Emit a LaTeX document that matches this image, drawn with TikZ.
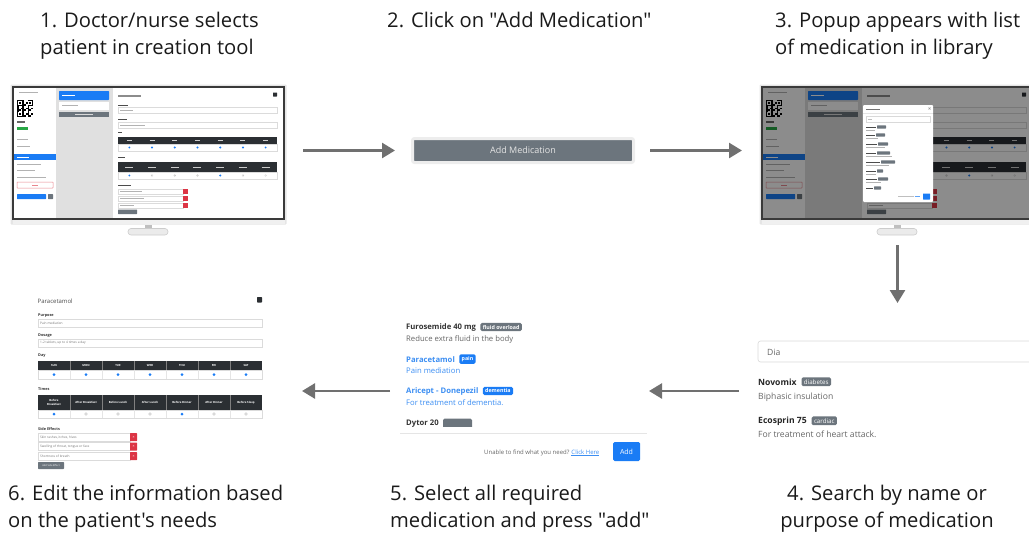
\documentclass[tikz,border=0pt]{standalone}
\usepackage{fontspec}
\setmainfont{Open Sans}[Ligatures=TeXOff]
\usetikzlibrary{arrows.meta, positioning, calc}
\definecolor{arrowgray}{HTML}{707070}
\definecolor{titletext}{HTML}{1A1A1A}
\definecolor{framedark}{HTML}{3A3A3A}
\definecolor{bsblue}{HTML}{1A7CF5}
\definecolor{linkblue}{HTML}{3C8EF2}
\definecolor{bsgray}{HTML}{6C757D}
\definecolor{bsdark}{HTML}{2B2F33}
\definecolor{bsred}{HTML}{DC3545}
\definecolor{bsgreen}{HTML}{28A745}
\definecolor{txtgray}{HTML}{666666}
\tikzset{
  flow/.style={-{Triangle[length=13pt, width=15pt]}, line width=2.6pt, draw=arrowgray},
  panel/.style={inner sep=0pt, outer sep=0pt},
  title/.style={anchor=base west, align=left, inner sep=0pt, text=titletext, font=\fontsize{20.2}{27}\selectfont},
  txtbar/.style={line width=1pt, black!30},
  inputbox/.style={draw=black!14, line width=.4pt},
  medname/.style={anchor=base west, inner sep=0pt, font=\fontsize{7.7}{9}\selectfont\bfseries},
  meddesc/.style={anchor=base west, inner sep=0pt, font=\fontsize{7.7}{9}\selectfont},
  srchname/.style={anchor=base west, inner sep=0pt, text=black!85, font=\fontsize{8.6}{10}\selectfont\bfseries},
  srchdesc/.style={anchor=base west, inner sep=0pt, text=txtgray, font=\fontsize{8.6}{10}\selectfont},
  badge/.style={fill=bsgray, text=white, rounded corners=1.5pt, inner xsep=2.4pt, inner ysep=2pt, font=\fontsize{5.3}{6}\selectfont\bfseries},
  uilabel/.style={anchor=base west, inner sep=0pt, font=\fontsize{3.8}{4}\selectfont\bfseries, text=black!80},
  uitext/.style={anchor=west, inner sep=0pt, font=\fontsize{3.2}{3.5}\selectfont, text=black!55},
  thead/.style={font=\fontsize{2.8}{3.2}\selectfont\bfseries, text=white, align=center, inner sep=0pt},
  monitor/.pic={
    % casing and stand
    \fill[black!10, rounded corners=1pt] (10.5,84.5) rectangle (286.5,224.5);
    \fill[framedark] (12,86) rectangle (285,219.5);
    \fill[black!6] (12.5,219.5) rectangle (284.5,223.5);
    \fill[black!25] (145,224.5) rectangle (152,229);
    \fill[black!8, draw=black!20, line width=.6pt, rounded corners=3pt] (128,228.5) rectangle (168,235);
    % screen panels
    \fill[white] (14,88) rectangle (56,217.5);
    \fill[black!12] (56,88) rectangle (113,217.5);
    \fill[white] (113,88) rectangle (283,217.5);
    % sidebar
    \draw[txtbar] (19,92) -- (38,92);
    \fill[white] (17,100) rectangle (33,117);
    \foreach \qi in {0,...,8}{\foreach \qj in {0,...,8}{
      \pgfmathtruncatemacro{\qrbit}{mod(\qi*\qi+3*\qj+\qi*\qj,3)==0}
      \ifnum\qrbit=1 \fill[black] (17+1.78*\qi,100+1.89*\qj) rectangle ++(1.78,1.89); \fi
    }}
    \foreach \qp in {(17,100),(27.5,100),(17,111.5)}{
      \fill[black] \qp rectangle ++(5.5,5.5);
      \fill[white] \qp ++(0.9,0.9) rectangle ++(3.7,3.7);
      \fill[black] \qp ++(1.8,1.8) rectangle ++(1.9,1.9);
    }
    \draw[black!60, line width=1.2pt] (17,122) -- (25,122);
    \fill[bsgreen] (17,126.5) rectangle (28,130);
    \draw[txtbar] (17,139) -- (28,139);
    \draw[txtbar] (17,146) -- (30,146);
    \fill[bsblue] (14,154) rectangle (56,160);
    \draw[white, line width=.8pt] (17,157) -- (29,157);
    \foreach \yy/\ll in {164/24, 170/18, 177/29} \draw[txtbar] (17,\yy) -- ++(\ll,0);
    \draw[bsred!60, line width=.5pt, rounded corners=.5pt] (17,182) rectangle (53,188);
    \draw[bsred!60, line width=.6pt] (32,185) -- (38,185);
    \fill[bsblue, rounded corners=.5pt] (17,194) rectangle (46,199);
    \fill[bsgray, rounded corners=.5pt] (48,194) rectangle (53,199);
    % medication list
    \fill[bsblue, rounded corners=.7pt] (59,91) rectangle (109,100);
    \draw[white, line width=.6pt] (62,95.5) -- (75,95.5);
    \fill[white] (59,101.5) rectangle (109,110);
    \draw[txtbar, line width=.6pt] (62,105.7) -- (78,105.7);
    \fill[bsgray] (59,112) rectangle (109,117);
    \draw[black!15, line width=.5pt] (75,114.5) -- (93,114.5);
    % medication details
    \draw[black!45, line width=1.1pt] (118,96) -- (141,96);
    \fill[bsdark, rounded corners=.4pt] (273,92.5) rectangle (277,96.5);
    \draw[black!70, line width=.7pt] (118,105) -- (128,105);
    \draw[inputbox] (118,107.5) rectangle (277,113);
    \draw[txtbar, line width=.5pt] (120,110.3) -- (133,110.3);
    \draw[black!70, line width=.7pt] (118,119) -- (127,119);
    \draw[inputbox] (118,122) rectangle (277,128);
    \draw[txtbar, line width=.5pt] (120,125) -- (145,125);
    \draw[black!70, line width=.7pt] (118,132) -- (122,132);
    \fill[bsdark] (118,136.5) rectangle (277,144);
    \draw[inputbox] (118,144) rectangle (277,151);
    \foreach \col in {0,...,6}{
      \draw[white!80!black, line width=.5pt] ({118+22.71*(\col+.5)-2.5},140.2) -- ++(5,0);
      \fill[bsblue] ({118+22.71*(\col+.5)},147.5) circle (1.1);
    }
    \draw[black!70, line width=.7pt] (118,157) -- (125,157);
    \fill[bsdark] (118,162) rectangle (277,172);
    \draw[inputbox] (118,172) rectangle (277,179);
    \foreach \col in {0,...,6}{
      \draw[white!80!black, line width=.5pt] ({118+22.71*(\col+.5)-4},167) -- ++(8,0);
    }
    \foreach \col in {1,2,3,5,6} \draw[black!25, line width=.3pt] ({118+22.71*(\col+.5)},175.5) circle (.9);
    \foreach \col in {0,4} \fill[bsblue] ({118+22.71*(\col+.5)},175.5) circle (1.1);
    \draw[black!70, line width=.7pt] (118,185) -- (131,185);
    \foreach \yy/\ll in {189/22, 196/24, 203/14}{
      \draw[inputbox] (118,\yy) rectangle (183,\yy+5);
      \draw[txtbar, line width=.4pt] (120,\yy+2.5) -- ++(\ll,0);
      \fill[bsred] (183,\yy) rectangle (188,\yy+5);
    }
    \fill[bsgray, rounded corners=.4pt] (118,209.5) rectangle (137,214);
  }
}
\begin{document}
\begin{tikzpicture}[x=1pt, y=-1pt]
\useasboundingbox (0,0) rectangle (1029,533);
\clip (0,0) rectangle (1029,533);

% step titles
\node[title] (t1) at (40,54) {1. Doctor/nurse selects\\patient in creation tool};
\node[title] (t2) at (387,27) {2. Click on "Add Medication"};
\node[title] (t3) at (775,54) {3. Popup appears with list\\of medication in library};
\node[title, align=center, anchor=base] (t4) at (887,527) {4. Search by name or\\purpose of medication};
\node[title] (t5) at (390,527) {5. Select all required\\medication and press "add"};
\node[title] (t6) at (8,527) {6. Edit the information based\\on the patient's needs};

% step 1: creation tool
\pic (mon1) at (0,0) {monitor};
\node[panel, minimum width=273pt, minimum height=150pt] (scr1) at (148.5,160) {};

% step 2: button
\node[fill=bsgray, draw=black!7, line width=3pt, rounded corners=2pt, minimum width=221pt, minimum height=24pt,
      text=white!90!black, font=\fontsize{9}{10}\selectfont] (btn) at (523,150.5) {Add Medication};

% step 3: popup
\pic (mon3) at (749,0) {monitor};
\node[panel, minimum width=273pt, minimum height=150pt] (scr3) at (897.5,160) {};
\fill[black, opacity=.45] (763,88) rectangle (1032,217.5);
\fill[white, rounded corners=1pt] (863,105) rectangle (933,202);
\draw[black!55, line width=.7pt] (866,109) -- (880,109);
\draw[black!40, line width=.4pt] (928.5,107.5) -- ++(2,2) (930.5,107.5) -- ++(-2,2);
\draw[black!10, line width=.3pt] (863,113) -- (933,113);
\draw[black!15, line width=.3pt] (866,116) rectangle (930,122);
\draw[black!25, line width=.4pt] (868,119) -- (872,119);
\foreach \yy/\nn/\bb/\dd in {127/10/9/9, 135/9/9/12, 144/11/10/19, 153/10/13/26, 162/14/14/23, 171/10/6/10, 179/11/10/15, 188/7/7/0}{
  \draw[black!70, line width=.9pt] (866,\yy) -- ++(\nn,0);
  \fill[bsgray, rounded corners=.4pt] (867+\nn,\yy-1.6) rectangle ++(\bb,3.2);
  \draw[black!30, line width=.5pt] (866,\yy+3.5) -- ++(\dd,0);
}
\draw[black!25, line width=.4pt] (898,196.5) -- (914,196.5);
\draw[bsblue!70, line width=.4pt] (914.5,196.5) -- (920,196.5);
\fill[bsblue, rounded corners=.4pt] (923,193.5) rectangle (930,199.5);

% step 4: search
\node[panel, minimum width=271pt, minimum height=96pt] (step4) at (893.5,389) {};
\draw[black!15, line width=.6pt, rounded corners=2.5pt, fill=white] (758,341) rectangle (1040,362);
\node[anchor=base west, inner sep=0pt, font=\fontsize{8.6}{9}\selectfont, text=txtgray] (dia) at (767,355) {Dia};
\node[srchname] (novo) at (758,385) {Novomix};
\node[badge, font=\fontsize{6.2}{7}\selectfont, inner ysep=2pt, right=4.5pt of novo] (novotag) {diabetes};
\node[srchdesc] (novodesc) at (758,399) {Biphasic insulation};
\node[srchname] (ecos) at (758,423) {Ecosprin 75};
\node[badge, font=\fontsize{6.2}{7}\selectfont, inner ysep=2pt, right=4.5pt of ecos] (ecostag) {cardiac};
\node[srchdesc] (ecosdesc) at (758,437) {For treatment of heart attack.};

% step 5: select
\node[panel, minimum width=249pt, minimum height=142pt] (step5) at (524.5,391) {};
\begin{scope}
  \clip (395,310) rectangle (650,426);
  \node[medname, text=black!80] (furo) at (406,329) {Furosemide 40 mg};
  \node[badge, right=4pt of furo] (furotag) {fluid overload};
  \node[meddesc, text=txtgray] (furodesc) at (406,341) {Reduce extra fluid in the body};
  \node[medname, text=linkblue] (para) at (406,362) {Paracetamol};
  \node[badge, fill=bsblue, right=4pt of para] (paratag) {pain};
  \node[meddesc, text=linkblue] (paradesc) at (406,373) {Pain mediation};
  \node[medname, text=linkblue] (ari) at (406,393) {Aricept - Donepezil};
  \node[badge, fill=bsblue, right=4pt of ari] (aritag) {dementia};
  \node[meddesc, text=linkblue] (aridesc) at (406,405) {For treatment of dementia.};
  \node[medname, text=black!80] (dytor) at (406,425.5) {Dytor 20};
  \node[badge, right=4pt of dytor, minimum width=29pt, minimum height=10pt] (dytortag) {};
\end{scope}
\draw[black!10, line width=.5pt] (400,433) -- (647,433);
\node[anchor=base west, inner sep=0pt, font=\fontsize{6}{7}\selectfont, text=txtgray] (unable) at (484,454)
  {Unable to find what you need? \textcolor{linkblue}{\underline{Click Here}}};
\node[fill=bsblue, text=white, rounded corners=1.5pt, minimum width=27pt, minimum height=19pt, inner sep=0pt,
      font=\fontsize{7}{8}\selectfont] (addbtn) at (626.5,451.5) {Add};

% step 6: edit form
\node[panel, minimum width=224pt, minimum height=173pt] (step6) at (150,382.5) {};
\node[anchor=base west, inner sep=0pt, font=\fontsize{6}{7}\selectfont, text=black!70] (f6title) at (37.5,303) {Paracetamol};
\fill[bsdark, rounded corners=.6pt] (257,297) rectangle (262,302.5);
\node[uilabel] (f6purp) at (38,316.5) {Purpose};
\draw[inputbox] (38,319) rectangle (262,327);
\node[uitext] (f6purpv) at (40,323) {Pain mediation};
\node[uilabel] (f6dose) at (38,336.5) {Dosage};
\draw[inputbox] (38,339) rectangle (262,347);
\node[uitext] (f6dosev) at (40,343) {1-2 tablets, up to 4 times a day};
\node[uilabel] (f6day) at (38,356) {Day};
\fill[bsdark] (38,361) rectangle (262,370);
\draw[inputbox] (38,370) rectangle (262,379);
\foreach \dd [count=\k from 0] in {SUN,MON,TUE,WED,THU,FRI,SAT}{
  \node[thead] (day\k) at ({38+32*(\k+.5)},365.5) {\dd};
  \fill[bsblue] ({38+32*(\k+.5)},374.5) circle (1.5);
}
\node[uilabel] (f6times) at (38,390.5) {Times};
\fill[bsdark] (38,395) rectangle (262,410);
\draw[inputbox] (38,410) rectangle (262,418);
\foreach \tm [count=\k from 0] in {Before\\Breakfast, After Breakfast, Before Lunch, After Lunch, Before Dinner, After Dinner, Before Sleep}{
  \node[thead] (time\k) at ({38+32*(\k+.5)},402.5) {\tm};
}
\foreach \k in {1,...,6}{
  \draw[black!50, line width=.3pt] ({38+32*\k},361) -- ++(0,9) ({38+32*\k},395) -- ++(0,15);
  \draw[black!10, line width=.3pt] ({38+32*\k},370) -- ++(0,9) ({38+32*\k},410) -- ++(0,8);
}
\foreach \k in {1,2,3,5,6} \draw[black!30, line width=.3pt] ({38+32*(\k+.5)},414) circle (1.3);
\foreach \k in {0,4} \fill[bsblue] ({38+32*(\k+.5)},414) circle (1.5);
\node[uilabel] (f6side) at (38,430) {Side Effects};
\foreach \se/\yy [count=\k] in {{Skin rashes, itches, hives}/433, {Swelling of throat, tongue or face}/442.5, {Shortness of breath}/452}{
  \draw[inputbox] (38,\yy) rectangle (130,\yy+8);
  \node[uitext] (side\k) at (40,\yy+4) {\se};
  \fill[bsred, rounded corners=.5pt] (130,\yy) rectangle (137,\yy+8);
  \node[inner sep=0pt, text=white, font=\fontsize{3.5}{4}\selectfont] (del\k) at (133.5,\yy+4) {×};
}
\fill[bsgray, rounded corners=.6pt] (38,462) rectangle (64,469);
\node[inner sep=0pt, text=white, font=\fontsize{2.5}{3}\selectfont] (f6add) at (51,465.5) {Add Side Effect};

% connectors
\draw[flow, shorten <=18pt, shorten >=16pt] (scr1.east |- btn.west) -- (btn.west);
\draw[flow, shorten <=15pt, shorten >=19pt] (btn.east) -- (btn.east -| scr3.west);
\draw[flow, shorten <=10pt, shorten >=38pt] (scr3.south) -- (scr3.south |- step4.north);
\draw[flow, shorten <=19pt] (step5.east -| step4.west) -- (step5.east);
\draw[flow, shorten <=10pt, shorten >=40pt] (step5.west) -- (step5.west -| step6.east);
\end{tikzpicture}
\end{document}
